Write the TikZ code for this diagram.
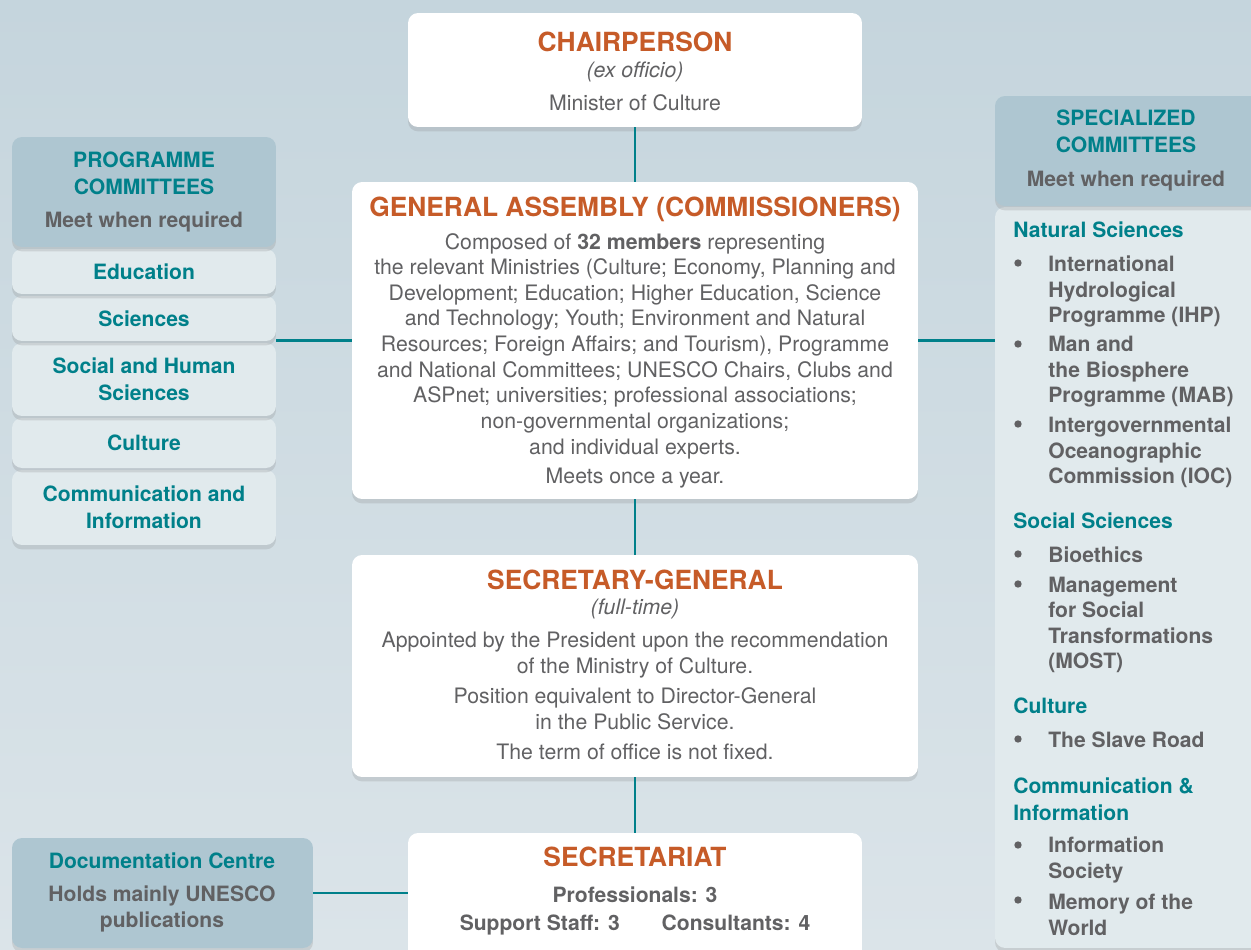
\documentclass[tikz,border=0pt]{standalone}
\usepackage{fontspec}
\setmainfont{TeX Gyre Heros}
\usetikzlibrary{shadows, positioning}

\definecolor{ncteal}{HTML}{00808A}
\definecolor{ncorange}{HTML}{C65B28}
\definecolor{ncgray}{HTML}{616163}
\definecolor{nchead}{HTML}{AEC6D1}
\definecolor{nclight}{HTML}{E1EAED}
\definecolor{bgtop}{HTML}{C5D5DD}
\definecolor{bgbot}{HTML}{DBE4E9}

\begin{document}
\begin{tikzpicture}[
    x=0.02cm, y=-0.02cm,
    card/.style={rectangle, rounded corners=0.2cm, inner sep=0pt,
        drop shadow={shadow xshift=0pt, shadow yshift=-2.5pt, opacity=0.22}},
    whitebox/.style={card, fill=white},
    headbox/.style={card, fill=nchead},
    lightbox/.style={card, fill=nclight, minimum width=5.28cm},
    title/.style={font=\fontsize{15}{18}\selectfont\bfseries, text=ncorange, inner sep=0pt},
    body/.style={font=\fontsize{12.1}{14.6}\selectfont, text=ncgray, align=center, inner sep=0pt},
    sidetitle/.style={font=\fontsize{12}{15.3}\selectfont\bfseries, text=ncteal, align=center, inner sep=0pt},
    sidenote/.style={font=\fontsize{12}{14.6}\selectfont\bfseries, text=ncgray, align=center, inner sep=0pt},
    listitem/.style={font=\fontsize{12}{14.5}\selectfont\bfseries, text=ncgray, align=left, anchor=west, inner sep=0pt},
    dot/.style={circle, fill=ncgray, inner sep=0pt, minimum size=4.2pt},
    link/.style={draw=ncteal, line width=1.5pt}
]
\useasboundingbox (0,0) rectangle (1251,950);
\clip (0,0) rectangle (1251,950);
\shade[top color=bgtop, bottom color=bgbot] (0,0) rectangle (1251,950);

% main column
\node[whitebox, minimum width=9.08cm, minimum height=2.28cm] (chair) at (635,70) {};
\node[title] (chair-t) at (635,42) {CHAIRPERSON};
\node[body] (chair-x) at (635,72) {\textit{(ex officio)}};
\node[body] (chair-m) at (635,103) {Minister of Culture};

\node[whitebox, minimum width=11.32cm, minimum height=6.34cm] (assembly) at (635,340.5) {};
\node[title] (assembly-t) at (635,209) {GENERAL ASSEMBLY (COMMISSIONERS)};
\node[body] (assembly-b) at (635,346) {Composed of \textbf{32 members} representing\\
    the relevant Ministries (Culture; Economy, Planning and\\
    Development; Education; Higher Education, Science\\
    and Technology; Youth; Environment and Natural\\
    Resources; Foreign Affairs; and Tourism), Programme\\
    and National Committees; UNESCO Chairs, Clubs and\\
    ASPnet; universities; professional associations;\\
    non-governmental organizations;\\
    and individual experts.};
\node[body] (assembly-m) at (635,478) {Meets once a year.};

\node[whitebox, minimum width=11.32cm, minimum height=4.44cm] (secgen) at (635,666) {};
\node[title] (secgen-t) at (635,580) {SECRETARY-GENERAL};
\node[body] (secgen-f) at (635,608.5) {\textit{(full-time)}};
\node[body] (secgen-a) at (635,655) {Appointed by the President upon the recommendation\\ of the Ministry of Culture.};
\node[body] (secgen-p) at (635,709) {Position equivalent to Director-General\\ in the Public Service.};
\node[body] (secgen-o) at (635,751.5) {The term of office is not fixed.};

\node[whitebox, minimum width=9.08cm, minimum height=2.54cm] (secretariat) at (635,896.5) {};
\node[title] (secretariat-t) at (635,857) {SECRETARIAT};
\node[sidenote] (secretariat-p) at (635,895) {Professionals: 3};
\node[sidenote] (secretariat-s) at (635,925) {Support Staff: 3\hspace{0.84cm}Consultants: 4};

% documentation centre
\node[headbox, minimum width=6.02cm, minimum height=2.2cm] (doccentre) at (162.5,893) {};
\node[sidetitle] (doccentre-t) at (162,861) {Documentation Centre};
\node[sidenote] (doccentre-n) at (162,909) {Holds mainly UNESCO\\ publications};

% programme committees (drawn bottom up so shadows fall downwards)
\node[lightbox, sidetitle, minimum height=1.5cm] (pc-comm) at (144,507.5) {Communication and\\ Information};
\node[lightbox, sidetitle, minimum height=1.0cm] (pc-cult) at (144,443) {Culture};
\node[lightbox, sidetitle, minimum height=1.46cm] (pc-soc) at (144,379.5) {Social and Human\\ Sciences};
\node[lightbox, sidetitle, minimum height=0.9cm] (pc-sci) at (144,318.5) {Sciences};
\node[lightbox, sidetitle, minimum height=0.9cm] (pc-edu) at (144,271.5) {Education};
\node[headbox, minimum width=5.28cm, minimum height=2.2cm] (progcom) at (144,192) {};
\node[sidetitle] (progcom-t) at (144,173) {PROGRAMME\\ COMMITTEES};
\node[sidenote] (progcom-n) at (144,221.5) {Meet when required};

% specialized committees
\node[lightbox, minimum width=5.4cm, minimum height=14.82cm] (specpanel) at (1130,577.5) {};
\node[headbox, minimum width=5.4cm, minimum height=2.2cm] (spechead) at (1130,151) {};
\node[sidetitle] (spechead-t) at (1126,131) {SPECIALIZED\\ COMMITTEES};
\node[sidenote] (spechead-n) at (1126,180.5) {Meet when required};

\node[sidetitle, anchor=west] (sc-nat) at (1013,230) {Natural Sciences};
\node[sidetitle, anchor=west] (sc-soc) at (1013,521) {Social Sciences};
\node[sidetitle, anchor=west] (sc-cult) at (1013,706) {Culture};
\node[sidetitle, anchor=west, align=left] (sc-comm) at (1013,799) {Communication \&\\ Information};

\foreach \y [count=\i] in {263,344,424,554,584,739,845,900}
    \node[dot] (b\i) at (1018,\y) {};

\node[listitem] (ihp) at (1048,291.5) {International\\ Hydrological\\ Programme (IHP)};
\node[listitem] (mab) at (1048,372) {Man and\\ the Biosphere\\ Programme (MAB)};
\node[listitem] (ioc) at (1048,452.5) {Intergovernmental\\ Oceanographic\\ Commission (IOC)};
\node[listitem] (bio) at (1048,555) {Bioethics};
\node[listitem] (most) at (1048,625) {Management\\ for Social\\ Transformations\\ (MOST)};
\node[listitem] (slave) at (1048,740) {The Slave Road};
\node[listitem] (infosoc) at (1048,860) {Information\\ Society};
\node[listitem] (memory) at (1048,915) {Memory of the\\ World};

% connectors
\draw[link] (chair) -- (assembly);
\draw[link] (assembly) -- (secgen);
\draw[link] (secgen) -- (secretariat);
\draw[link] (assembly.west) -- (assembly.west -| pc-sci.east);
\draw[link] (assembly.east) -- (assembly.east -| specpanel.west);
\draw[link] (doccentre.east) -- (doccentre.east -| secretariat.west);
\end{tikzpicture}
\end{document}
